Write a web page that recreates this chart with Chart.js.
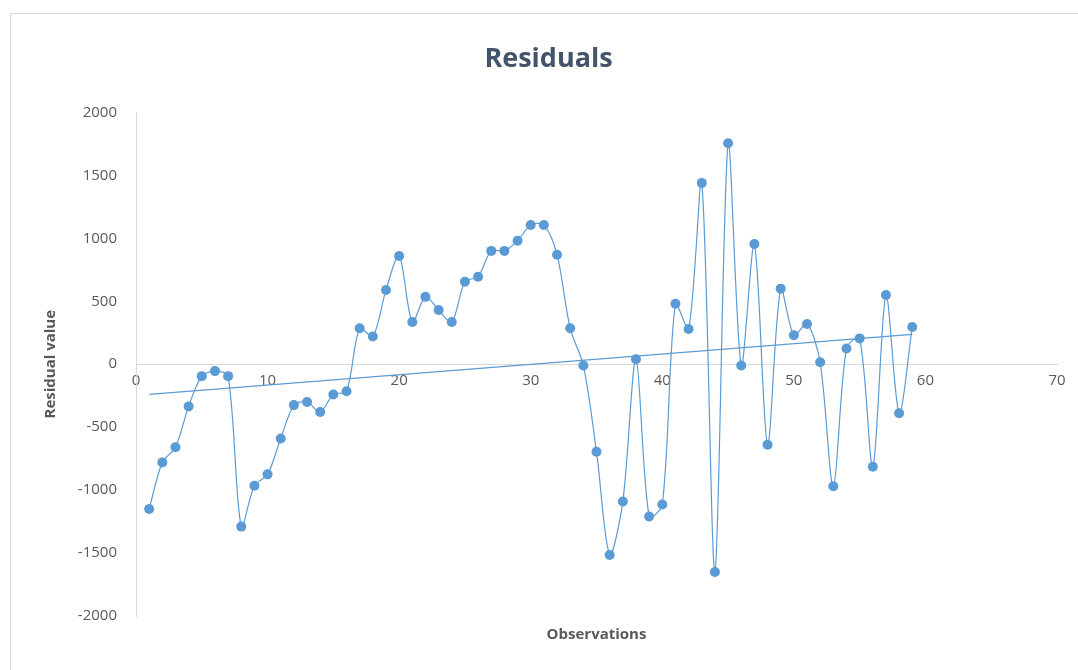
<!DOCTYPE html>
<html>
<head>
<meta charset="utf-8">
<script src="https://cdn.jsdelivr.net/npm/chart.js@4.4.0/dist/chart.umd.min.js"></script>
<style>
  body { margin: 0; background: #fff; }
  #wrap { width: 1078px; height: 670px; }
</style>
</head>
<body>
<div id="wrap"><canvas id="residChart" width="1078" height="670"></canvas></div>
<script>
  const observations = [
    1, 2, 3, 4, 5, 6, 7, 8, 9, 10,
    11, 12, 13, 14, 15, 16, 17, 18, 19, 20,
    21, 22, 23, 24, 25, 26, 27, 28, 29, 30,
    31, 32, 33, 34, 35, 36, 37, 38, 39, 40,
    41, 42, 43, 44, 45, 46, 47, 48, 49, 50,
    51, 52, 53, 54, 55, 56, 57, 58, 59
  ];
  const residuals = [
    -1150, -780, -660, -335, -95, -55, -95, -1290, -965, -875,
    -590, -325, -300, -380, -240, -215, 285, 220, 590, 860,
    335, 535, 430, 335, 655, 695, 900, 900, 980, 1105,
    1105, 870, 285, -10, -695, -1515, -1090, 40, -1210, -1115,
    480, 280, 1440, -1650, 1755, -10, 955, -640, 600, 230,
    320, 15, -970, 125, 205, -815, 550, -390, 295
  ];
  const yTicks = [-2000, -1500, -1000, -500, 0, 500, 1000, 1500, 2000];
  const xTicks = [0, 10, 20, 30, 40, 50, 60, 70];

  // linear trendline (least squares) of the residuals
  function trend(xs, ys){
    let n = xs.length, sx = 0, sy = 0, sxy = 0, sxx = 0;
    for (let i = 0; i < n; i++){
      sx += xs[i]; sy += ys[i]; sxy += xs[i]*ys[i]; sxx += xs[i]*xs[i];
    }
    let b = (n*sxy - sx*sy) / (n*sxx - sx*sx);
    let a = (sy - b*sx) / n;
    let x0 = xs[0], x1 = xs[n-1];
    return [{x: x0, y: a + b*x0}, {x: x1, y: a + b*x1}];
  }

  const blue = '#5B9BD5';
  const tickColor = '#595959';

  const frame = {
    id: 'frame',
    beforeDraw(chart){
      const ctx = chart.ctx;
      ctx.save();
      ctx.strokeStyle = '#d9d9d9';
      ctx.lineWidth = 1;
      ctx.strokeRect(10.5, 13.5, 1200, 800);
      ctx.restore();
    }
  };

  new Chart(document.getElementById('residChart'), {
    type: 'scatter',
    data: {
      datasets: [{
        label: 'Residuals',
        data: observations.map((o, i) => ({x: o, y: residuals[i]})),
        showLine: true,
        borderColor: blue,
        borderWidth: 1.2,
        backgroundColor: blue,
        pointRadius: 5,
        pointHoverRadius: 5,
        pointBorderWidth: 0,
        tension: 0.3,
        order: 1
      }, {
        label: 'Trend',
        data: trend(observations, residuals),
        showLine: true,
        borderColor: blue,
        borderWidth: 1.2,
        pointRadius: 0,
        order: 2
      }]
    },
    options: {
      responsive: false,
      animation: false,
      layout: { padding: { left: 40, right: 21, top: 0, bottom: 0 } },
      plugins: {
        legend: { display: false },
        tooltip: { enabled: false },
        title: {
          display: true,
          text: 'Residuals',
          color: '#44546A',
          font: { family: 'Open Sans', size: 27, weight: 'bold' },
          padding: { top: 43, bottom: 37 }
        }
      },
      scales: {
        x: {
          type: 'linear',
          min: 0, max: 70,
          position: { y: 0 },
          afterBuildTicks(axis){ axis.ticks = xTicks.map(v => ({value: v})); },
          grid: { display: false, drawTicks: false },
          border: { display: true, color: '#d9d9d9', width: 1 },
          ticks: {
            color: tickColor,
            font: { family: 'Open Sans', size: 15 },
            padding: 8,
            maxRotation: 0
          }
        },
        xTitle: {
          type: 'linear',
          position: 'bottom',
          axis: 'x',
          afterFit(scale){ scale.height = 54; },
          grid: { display: false, drawTicks: false },
          border: { display: false },
          ticks: { display: false },
          title: {
            display: true,
            text: 'Observations',
            color: tickColor,
            font: { family: 'Open Sans', size: 15, weight: 'bold' },
            padding: { top: 0, bottom: 26 }
          }
        },
        y: {
          min: -2000, max: 2000,
          afterBuildTicks(axis){ axis.ticks = yTicks.map(v => ({value: v})); },
          afterFit(scale){ scale.width = 96; },
          grid: { display: false, drawTicks: false },
          border: { display: true, color: '#d9d9d9', width: 1 },
          ticks: {
            color: tickColor,
            font: { family: 'Open Sans', size: 15 },
            padding: 19,
            callback: v => String(v)
          },
          title: {
            display: true,
            text: 'Residual value',
            color: tickColor,
            font: { family: 'Open Sans', size: 15, weight: 'bold' },
            padding: { top: 2, bottom: 0 }
          }
        }
      }
    },
    plugins: [frame]
  });
</script>
</body>
</html>
